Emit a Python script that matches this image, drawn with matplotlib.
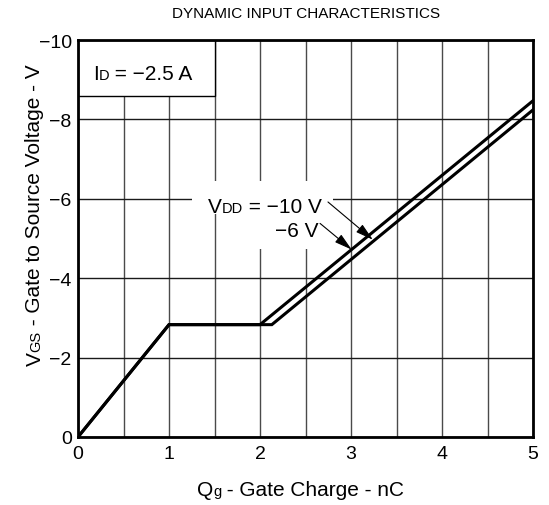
import numpy as np
import matplotlib
matplotlib.use("Agg")
import matplotlib.pyplot as plt
from matplotlib.patches import Rectangle
from matplotlib.text import Text
from matplotlib.transforms import IdentityTransform

# ---- data ----
q_vdd10 = [0.0, 1.0, 2.13, 5.0]
v_vdd10 = [0.0, -2.83, -2.83, -8.24]
q_vdd6 = [0.0, 1.0, 2.0, 5.0]
v_vdd6 = [0.0, -2.83, -2.83, -8.47]

x_ticks = [0, 1, 2, 3, 4, 5]
x_ticklabels = ["0", "1", "2", "3", "4", "5"]
x_minor = [0.5, 1.5, 2.5, 3.5, 4.5]
y_ticks = [0, -2, -4, -6, -8, -10]
y_ticklabels = ["0", "\u22122", "\u22124", "\u22126", "\u22128", "\u221210"]

FONT = "Liberation Sans"
plt.rcParams["font.family"] = [FONT, "DejaVu Sans"]

W, H = 549, 506
fig = plt.figure(figsize=(W / 100, H / 100), dpi=100)
L, R, T, B = 78, 533, 41, 438
ax = fig.add_axes([L / W, (H - B) / H, (R - L) / W, (B - T) / H])

ax.set_xlim(0, 5)
ax.set_ylim(0, -10)
ax.set_xticks(x_ticks)
ax.set_xticklabels(x_ticklabels)
ax.set_xticks(x_minor, minor=True)
ax.set_yticks(y_ticks)
ax.set_yticklabels(y_ticklabels)
ax.tick_params(axis="both", which="both", length=0, labelsize=14)
ax.tick_params(axis="x", pad=5.5)
ax.tick_params(axis="y", pad=4.5)
ax.set_axisbelow(True)
ax.grid(axis="x", which="both", color="#4a4a4a", lw=1.0)
ax.grid(axis="y", which="major", color="#1a1a1a", lw=1.0)
for s in ax.spines.values():
    s.set_linewidth(2.0)
    s.set_color("black")

ax.plot(q_vdd10, v_vdd10, color="black", lw=2.2, solid_joinstyle="miter", zorder=3)
ax.plot(q_vdd6, v_vdd6, color="black", lw=2.2, solid_joinstyle="miter", zorder=3)

# ID box in the top-left corner
ax.add_patch(Rectangle((0, -10), 1.5, 1.4, facecolor="white", edgecolor="black",
                       lw=1.0, zorder=1.5))
# white areas behind the VDD labels
ax.add_patch(Rectangle((1.25, -6.45), 1.55, 0.83, facecolor="white", edgecolor="none", zorder=1.5))
ax.add_patch(Rectangle((1.62, -5.62), 1.18, 0.88, facecolor="white", edgecolor="none", zorder=1.5))

ap = dict(arrowstyle="-|>,head_length=0.9,head_width=0.25", color="black", lw=0.8,
          shrinkA=0, shrinkB=0, mutation_scale=12)
ax.annotate("", xy=(3.24, -4.97), xytext=(2.747, -5.92), arrowprops=ap, zorder=4)
ax.annotate("", xy=(3.008, -4.72), xytext=(2.66, -5.38), arrowprops=ap, zorder=4)

renderer = fig.canvas.get_renderer()


def adv(s, fs):
    def w(txt):
        t = Text(0, 0, txt, fontsize=fs, family=FONT)
        t.set_figure(fig)
        return t.get_window_extent(renderer=renderer).width
    return w("|" + s + "|") - w("||")


def rich(x, y, pieces, align="left", rotation=0, target=None, zorder=5):
    """x, y: display pixels (origin bottom-left), baseline anchor."""
    ws = [adv(s, fs) for s, fs in pieces]
    total = sum(ws)
    if align == "center":
        start = -total / 2
    elif align == "right":
        start = -total
    else:
        start = 0
    pos = start
    tgt = target if target is not None else fig
    for (s, fs), w in zip(pieces, ws):
        if rotation == 0:
            px_, py_ = x + pos, y
        else:
            px_, py_ = x, y + pos
        txt = Text(px_, py_, s, fontsize=fs, family=FONT, ha="left", va="baseline",
                   rotation=rotation, rotation_mode="anchor",
                   transform=IdentityTransform(), zorder=zorder)
        if tgt is fig:
            fig.texts.append(txt)
            txt.set_figure(fig)
        else:
            ax._add_text(txt)
            txt.set_clip_on(False)
        pos += w


def px(top_y):
    return H - top_y


# title
fig.text(306 / W, px(17.5) / H, "DYNAMIC INPUT CHARACTERISTICS", ha="center", va="baseline",
         fontsize=11, family=FONT)
# axis labels
rich(300.5, px(496), [("Q", 15), ("g", 10.5), (" - Gate Charge - nC", 15)], align="center")
rich(40.5, px(215), [("V", 15), ("GS", 10.5), (" - Gate to Source Voltage - V", 15)],
     align="center", rotation=90)
# annotations
rich(93, px(80), [("I", 15), ("D", 10.5), (" = \u22122.5 A", 15)], target=ax)
rich(322, px(213.3), [("V", 15), ("DD", 10.5), (" = \u221210 V", 15)], align="right", target=ax)
rich(318.5, px(237.3), [("\u22126 V", 15)], align="right", target=ax)

fig.savefig("out.png", dpi=100)
